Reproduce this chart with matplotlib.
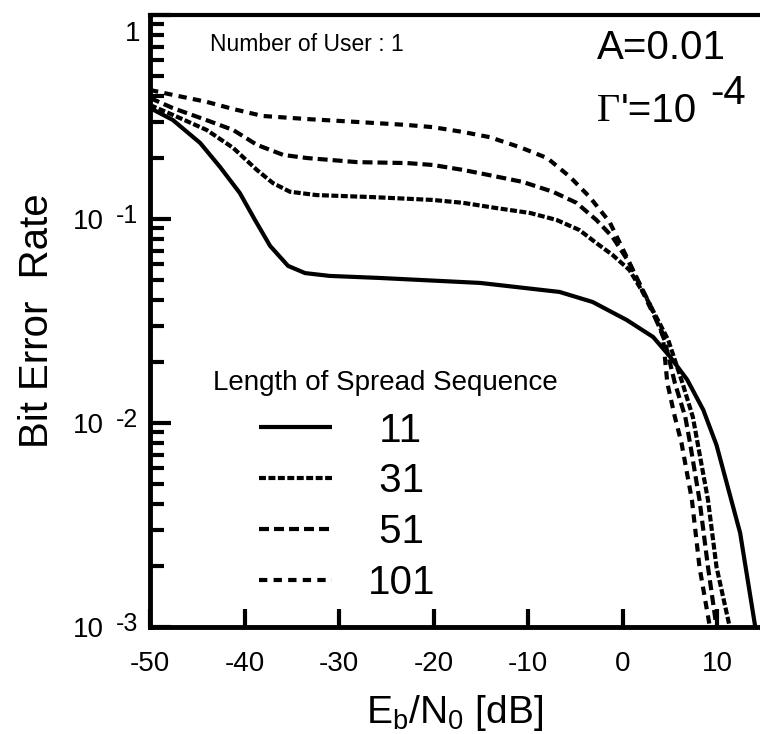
import numpy as np
import matplotlib
matplotlib.use("Agg")
import matplotlib.pyplot as plt
from matplotlib.ticker import FixedLocator, FixedFormatter, LogLocator, NullLocator, NullFormatter
from matplotlib.transforms import ScaledTranslation

plt.rcParams["font.family"] = ["Liberation Sans", "DejaVu Sans"]
plt.rcParams["mathtext.fontset"] = "custom"
plt.rcParams["mathtext.rm"] = "Liberation Sans"
plt.rcParams["mathtext.it"] = "Liberation Sans"
plt.rcParams["axes.unicode_minus"] = False
plt.rcParams["lines.scale_dashes"] = False

# Eb/N0 [dB] and bit error rate for each spreading length
x_11 = [-50, -47.6, -44.7, -42.6, -40.5, -38.9, -37.3, -35.4, -33.6, -31.0, -25.7,
        -15.1, -6.7, -3.2, 0.4, 3.2, 5.0, 6.8, 8.5, 9.9, 12.4, 14.0]
ber_11 = [0.350, 0.306, 0.236, 0.180, 0.134, 0.0989, 0.0738, 0.0589, 0.0543, 0.0526, 0.0514,
          0.0486, 0.0439, 0.0392, 0.0320, 0.0264, 0.0211, 0.0163, 0.0116, 0.0078, 0.00289, 0.001]

x_31 = [-50, -47.6, -44.0, -41.2, -38.7, -37.0, -35.2, -32.4, -26.4, -20.1, -16.9, -13.3,
        -9.8, -7.0, -4.6, -2.8, -1.1, 0.7, 2.6, 4.8, 6.3, 7.4, 7.9, 9.0, 9.9, 11.3]
ber_31 = [0.362, 0.324, 0.273, 0.223, 0.174, 0.150, 0.136, 0.131, 0.128, 0.124, 0.120, 0.113,
          0.107, 0.0989, 0.0883, 0.0762, 0.0667, 0.0562, 0.0401, 0.0255, 0.0157, 0.0107, 0.00798,
          0.0042, 0.00197, 0.001]

x_51 = [-50, -47.6, -44.0, -41.2, -38.7, -35.9, -33.4, -28.1, -22.8, -20.1, -16.9, -14.1,
        -10.6, -7.4, -4.9, -2.8, -1.1, 0.7, 2.9, 4.4, 5.5, 6.6, 7.1, 8.1, 9.0, 9.9]
ber_51 = [0.392, 0.350, 0.305, 0.273, 0.231, 0.206, 0.199, 0.190, 0.188, 0.184, 0.174, 0.164,
          0.152, 0.136, 0.120, 0.0989, 0.0817, 0.0608, 0.0378, 0.0255, 0.0157, 0.0107, 0.00798,
          0.0042, 0.00197, 0.001]

x_101 = [-50, -47.6, -44.0, -41.2, -38.1, -33.4, -28.1, -22.8, -20.1, -16.9, -14.1, -10.9,
         -8.0, -5.6, -3.5, -1.4, 0.4, 2.5, 4.2, 4.7, 5.5, 6.2, 7.3, 8.1, 9.2]
ber_101 = [0.429, 0.406, 0.375, 0.346, 0.320, 0.309, 0.299, 0.289, 0.282, 0.267, 0.252, 0.225,
           0.199, 0.161, 0.128, 0.0966, 0.0652, 0.0401, 0.0276, 0.0157, 0.0107, 0.00798, 0.0042,
           0.00197, 0.001]

x_ticks = [-50, -40, -30, -20, -10, 0, 10]
y_ticks = [1e-3, 1e-2, 1e-1, 1]
y_tick_labels = ["10", "10", "10", "1"]
y_tick_exponents = ["-3", "-2", "-1"]

fig = plt.figure(figsize=(7.6, 7.34), dpi=100)
ax = fig.add_axes([150 / 760, 1 - 627 / 734, 610 / 760, 612 / 734])

lw = 3.0
l11, = ax.plot(x_11, ber_11, color="black", lw=lw, solid_capstyle="butt")
l31, = ax.plot(x_31, ber_31, color="black", lw=lw, dashes=(5, 1.8), dash_capstyle="butt")
l51, = ax.plot(x_51, ber_51, color="black", lw=lw, dashes=(7.2, 3.6), dash_capstyle="butt")
l101, = ax.plot(x_101, ber_101, color="black", lw=lw, dashes=(6.0, 4.5), dash_capstyle="butt")

ax.set_yscale("log")
ax.set_xlim(-50, 14.5)
ax.set_ylim(1e-3, 1)

ax.xaxis.set_major_locator(FixedLocator(x_ticks))
ax.xaxis.set_minor_locator(NullLocator())
ax.yaxis.set_major_locator(FixedLocator(y_ticks))
ax.yaxis.set_major_formatter(FixedFormatter(y_tick_labels))
ax.yaxis.set_minor_locator(LogLocator(base=10, subs=np.arange(2, 10)))
ax.yaxis.set_minor_formatter(NullFormatter())

ax.tick_params(axis="x", labelsize=20)
ax.tick_params(axis="y", labelsize=20)
ax.tick_params(axis="x", which="major", direction="in", length=13, width=3, pad=17)
ax.tick_params(axis="y", which="major", direction="in", length=15, width=3, pad=7)
ax.tick_params(axis="y", which="minor", direction="in", length=10, width=3)

for side in ["left", "bottom"]:
    ax.spines[side].set_linewidth(3.5)
ax.spines["top"].set_linewidth(3)
ax.spines["right"].set_visible(False)

# powers of ten: "10" with a full-size raised exponent after it
y_major = ax.yaxis.get_major_ticks()
for tick, exp in zip(y_major[:3], y_tick_exponents):
    tick.set_pad(33)
    ax.annotate(exp, xy=(1, 1), xycoords=tick.label1, xytext=(12, 5),
                textcoords="offset pixels", va="top", ha="left", fontsize=18)

# the "1" label sits a little below the top tick
top_label = y_major[-1].label1
top_label.set_va("top")
top_label.set_transform(top_label.get_transform()
                        + ScaledTranslation(0, -6 / 100, fig.dpi_scale_trans))

ax.set_ylabel("Bit Error  Rate", fontsize=29, labelpad=12)
ax.set_xlabel("E$_\\mathrm{b}$/N$_\\mathrm{0}$ [dB]", fontsize=28, labelpad=12)

ax.text(0.098, 0.951, "Number of User : 1", transform=ax.transAxes, fontsize=16.5,
        va="center", ha="left")
ax.text(0.733, 0.946, "A=0.01", transform=ax.transAxes, fontsize=29, va="center", ha="left")
gam = ax.text(0.733, 0.826, "\u0393", transform=ax.transAxes, fontsize=29, va="baseline",
              ha="left", family="Liberation Serif")
rest = ax.annotate("'=10", xy=(1, 0), xycoords=gam, fontsize=29, va="bottom", ha="left")
ax.annotate("-4", xy=(1, 0), xycoords=rest, xytext=(14, 18), textcoords="offset pixels",
            fontsize=29, va="bottom", ha="left")

ax.text(0.103, 0.399, "Length of Spread Sequence", transform=ax.transAxes, fontsize=20,
        va="center", ha="left")
ax.legend([l11, l31, l51, l101], [" 11", " 31", " 51", "101"], loc="upper left",
          bbox_to_anchor=(0.179, 0.352), frameon=False, fontsize=29, handlelength=1.8,
          handletextpad=0.9, labelspacing=0.32, borderpad=0, borderaxespad=0)

fig.savefig("out.png", dpi=100)
